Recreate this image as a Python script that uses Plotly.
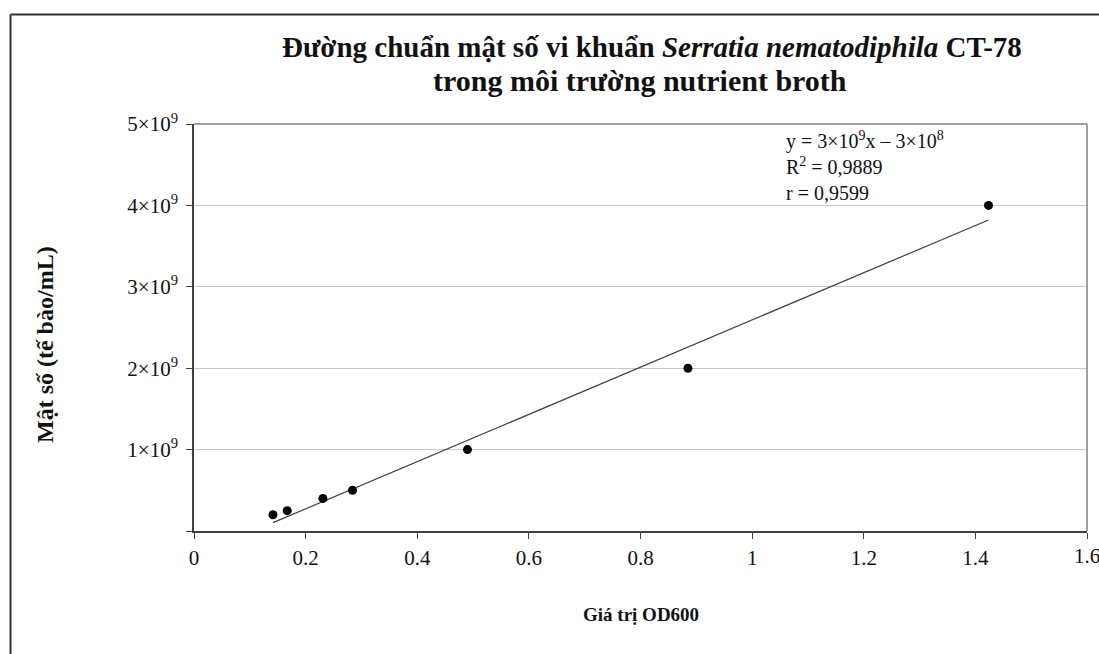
import numpy as np
import plotly.graph_objects as go

# Data
od600 = [0.1415, 0.167, 0.231, 0.284, 0.490, 0.885, 1.4235]
density = [2.0e8, 2.5e8, 4.0e8, 5.0e8, 1.0e9, 2.0e9, 4.0e9]

x_tickvals = [0, 0.2, 0.4, 0.6, 0.8, 1.0, 1.2, 1.4, 1.6]
x_ticktext = ["0", "0.2", "0.4", "0.6", "0.8", "1", "1.2", "1.4", "1.6"]
y_tickvals = [0, 1e9, 2e9, 3e9, 4e9, 5e9]
y_ticktext = ["", "1×10<sup>9</sup>", "2×10<sup>9</sup>", "3×10<sup>9</sup>",
              "4×10<sup>9</sup>", "5×10<sup>9</sup>"]

title_line1 = "Đường chuẩn mật số vi khuẩn <i>Serratia nematodiphila</i> CT-78"
title_line2 = "trong môi trường nutrient broth"
x_title = "Giá trị OD600"
y_title = "Mật số (tế bào/mL)"
eq_lines = ["y = 3×10<sup>9</sup>x – 3×10<sup>8</sup>", "R<sup>2</sup> = 0,9889", "r = 0,9599"]

# Linear trendline fitted from the data
slope, intercept = np.polyfit(od600, density, 1)
tx = [min(od600), max(od600)]
ty = [slope * v + intercept for v in tx]

FONT = "Liberation Serif, Times New Roman, serif"

fig = go.Figure()
fig.add_trace(go.Scatter(x=tx, y=ty, mode="lines",
                         line=dict(color="#404040", width=1.2),
                         hoverinfo="skip", showlegend=False))
fig.add_trace(go.Scatter(x=od600, y=density, mode="markers",
                         marker=dict(color="black", size=9),
                         showlegend=False))

W, H = 1099, 654
L, R, T, B = 194, 12, 124, 123
pw, ph = W - L - R, H - T - B

def px(xp):
    return (xp - L) / pw

def py(yp):
    return (H - B - yp) / ph

# the last tick label sits on the right page edge: draw it as an annotation
shown_ticktext = x_ticktext[:-1] + [""]

fig.update_layout(
    width=W, height=H,
    margin=dict(l=L, r=R, t=T, b=B, autoexpand=False),
    paper_bgcolor="white", plot_bgcolor="white",
    font=dict(family=FONT, color="#111111", size=21),
    xaxis=dict(range=[0, 1.6], tickvals=x_tickvals, ticktext=shown_ticktext,
               showgrid=False, zeroline=False, showline=True,
               linecolor="#404040", linewidth=1.5,
               ticks="outside", ticklen=6, tickcolor="#404040",
               tickfont=dict(size=21, family=FONT), ticklabelstandoff=1),
    yaxis=dict(range=[0, 5e9], tickvals=y_tickvals, ticktext=y_ticktext,
               showgrid=True, gridcolor="#c8c8c8", gridwidth=1,
               zeroline=False, showline=True,
               linecolor="#404040", linewidth=1.5,
               ticks="outside", ticklen=6, tickcolor="#404040",
               tickfont=dict(size=21, family=FONT), ticklabelstandoff=4),
    showlegend=False,
)

fig.add_annotation(xref="x", yref="paper", x=x_tickvals[-1], y=py(556),
                   text=x_ticktext[-1], showarrow=False,
                   font=dict(size=21, family=FONT, color="#111111"),
                   xanchor="center", yanchor="middle")

# Plot area box (top and right borders)
fig.add_shape(type="line", xref="paper", yref="paper", x0=0, x1=1, y0=1, y1=1,
              line=dict(color="#808080", width=1.5))
fig.add_shape(type="line", xref="paper", yref="paper", x0=1, x1=1, y0=0, y1=1,
              line=dict(color="#808080", width=1.5))

# Outer frame (left and top edges visible)
fig.add_shape(type="line", xref="paper", yref="paper",
              x0=px(10.5), x1=px(10.5), y0=py(660), y1=py(14.5),
              line=dict(color="#333333", width=2))
fig.add_shape(type="line", xref="paper", yref="paper",
              x0=px(10.5), x1=px(1110), y0=py(14.5), y1=py(14.5),
              line=dict(color="#333333", width=2))

# Titles
fig.add_annotation(xref="paper", yref="paper", x=px(652), y=py(47),
                   text="<b>" + title_line1 + "</b>", showarrow=False,
                   font=dict(size=29, family=FONT, color="#111111"),
                   xanchor="center", yanchor="middle")
fig.add_annotation(xref="paper", yref="paper", x=px(640), y=py(80),
                   text="<b>" + title_line2 + "</b>", showarrow=False,
                   font=dict(size=30, family=FONT, color="#111111"),
                   xanchor="center", yanchor="middle")
fig.add_annotation(xref="paper", yref="paper", x=px(641), y=py(614),
                   text="<b>" + x_title + "</b>", showarrow=False,
                   font=dict(size=19, family=FONT, color="#111111"),
                   xanchor="center", yanchor="middle")
fig.add_annotation(xref="paper", yref="paper", x=px(45), y=py(345),
                   text="<b>" + y_title + "</b>", showarrow=False, textangle=-90,
                   font=dict(size=24, family=FONT, color="#111111"),
                   xanchor="center", yanchor="middle")

# Equation text
fig.add_annotation(xref="paper", yref="paper", x=px(784), y=py(166),
                   text="<br>".join(eq_lines), showarrow=False, align="left",
                   font=dict(size=20, family=FONT, color="#111111"),
                   xanchor="left", yanchor="middle")

fig.write_html("out.html")
